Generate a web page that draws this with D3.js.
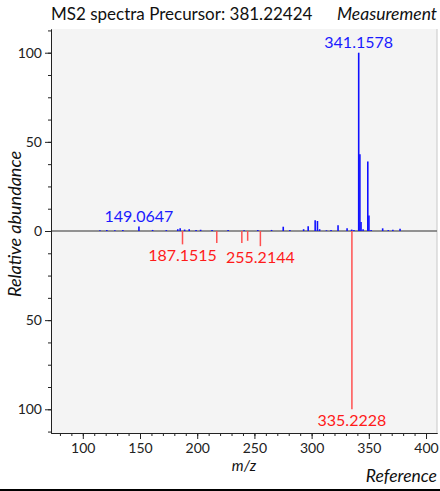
<!DOCTYPE html>
<html>
<head>
<meta charset="utf-8">
<script src="https://cdn.jsdelivr.net/npm/d3@7"></script>
<style>
  body { margin: 0; background: #fff; }
  svg { display: block; font-family: Lato, "Open Sans", sans-serif; }
  .axis path, .axis line { stroke: #222; }
  .axis text { font-size: 14px; fill: #222; font-family: Lato, sans-serif; }
</style>
</head>
<body>
<svg width="440" height="491"></svg>
<script>
// data
var title = "MS2 spectra Precursor: 381.22424";
var measMz  = [115, 121, 128, 135, 149.0647, 161, 173, 183, 185.1, 189, 193, 199, 203, 213, 227, 241, 253, 265,
               275.2, 281, 293, 297, 303.1, 305.1, 307, 313, 317, 323.1, 331, 335, 337,
               341.1578, 342.2, 343.2, 345, 349.1, 350.1, 352, 362.1, 367, 371, 377.3];
var measInt = [0.4, 0.5, 0.4, 0.6, 2.5, 0.6, 0.5, 1.0, 1.6, 0.8, 1.0, 0.6, 0.7, 0.5, 0.5, 0.4, 0.5, 0.6,
               2.4, 0.5, 1.0, 2.6, 6.0, 5.6, 1.0, 0.4, 0.5, 3.2, 1.5, 0.8, 0.6,
               100, 43, 5, 1, 39, 8.7, 0.6, 1.5, 0.5, 0.7, 1.3];
var refMz  = [187.1515, 217.1, 239.0, 244.1, 255.2144, 335.2228];
var refInt = [7.5, 6.7, 6.7, 5.5, 8.5, 100];
var measLabels = [149.0647, 341.1578];
var refLabels = [187.1515, 255.2144, 335.2228];
var xTicks = [100, 150, 200, 250, 300, 350, 400];
var yTicks = [100, 50, 0, -50, -100];

var svg = d3.select("svg");
// plot box (window.top is taken, so own names)
var plotL = 51, plotR = 437, plotT = 29, plotB = 433;

var x = d3.scaleLinear().domain([72.2, 409.6]).range([plotL, plotR]);
var y = d3.scaleLinear().domain([-113.3, 113.3]).range([plotB, plotT]);

// plot background
svg.append("rect")
    .attr("x", plotL).attr("y", plotT)
    .attr("width", plotR - plotL).attr("height", plotB - plotT)
    .attr("fill", "#f4f4f4");
svg.append("line")
    .attr("x1", plotR).attr("x2", plotR).attr("y1", plotT).attr("y2", plotB)
    .attr("stroke", "#c8c8c8");

// zero line
svg.append("line")
    .attr("x1", plotL).attr("x2", plotR).attr("y1", y(0)).attr("y2", y(0))
    .attr("stroke", "#707070").attr("stroke-width", 1.5);

// measurement peaks (up)
svg.append("g").selectAll("line")
    .data(measMz)
    .enter().append("line")
    .attr("x1", function (d) { return x(d); })
    .attr("x2", function (d) { return x(d); })
    .attr("y1", y(0))
    .attr("y2", function (d, i) { return y(measInt[i]); })
    .attr("stroke", "#1010ff").attr("stroke-width", 1.6);

// reference peaks (down)
svg.append("g").selectAll("line")
    .data(refMz)
    .enter().append("line")
    .attr("x1", function (d) { return x(d); })
    .attr("x2", function (d) { return x(d); })
    .attr("y1", y(0))
    .attr("y2", function (d, i) { return y(-refInt[i]); })
    .attr("stroke", "#ff5050").attr("stroke-width", 1.5);

// peak labels
svg.append("g").selectAll("text")
    .data(measLabels)
    .enter().append("text")
    .attr("x", function (d) { return x(d); })
    .attr("y", function (d) { return y(measInt[measMz.indexOf(d)]) - 5; })
    .attr("text-anchor", "middle")
    .attr("font-size", 16)
    .attr("fill", "#1a1aff")
    .text(function (d) { return d.toFixed(4); });

svg.append("g").selectAll("text")
    .data(refLabels)
    .enter().append("text")
    .attr("x", function (d) { return x(d); })
    .attr("y", function (d) { return y(-refInt[refMz.indexOf(d)]) + 17; })
    .attr("text-anchor", "middle")
    .attr("font-size", 16)
    .attr("fill", "#ff1a1a")
    .text(function (d) { return d.toFixed(4); });

// axes
svg.append("g").attr("class", "axis")
    .attr("transform", "translate(" + plotL + ",0)")
    .call(d3.axisLeft(y).tickValues(d3.range(-112.5, 113, 12.5)).tickSize(3).tickFormat("").tickSizeOuter(0));
svg.append("g").attr("class", "axis")
    .attr("transform", "translate(" + plotL + ",0)")
    .call(d3.axisLeft(y).tickValues(yTicks).tickSize(6).tickPadding(3)
        .tickFormat(function (d) { return Math.abs(d); }).tickSizeOuter(0));

svg.append("g").attr("class", "axis")
    .attr("transform", "translate(0," + plotB + ")")
    .call(d3.axisBottom(x).tickValues(d3.range(80, 410, 10)).tickSize(3).tickFormat("").tickSizeOuter(0));
svg.append("g").attr("class", "axis")
    .attr("transform", "translate(0," + plotB + ")")
    .call(d3.axisBottom(x).tickValues(xTicks).tickSize(6).tickPadding(4).tickSizeOuter(0));

// titles
svg.append("text")
    .attr("x", plotL).attr("y", 20)
    .attr("font-size", 17).attr("fill", "#111")
    .text(title);
svg.append("text")
    .attr("x", plotR).attr("y", 20)
    .attr("text-anchor", "end")
    .attr("font-size", 17.5).attr("font-style", "italic").attr("fill", "#111")
    .text("Measurement");
svg.append("text")
    .attr("x", (plotL + plotR) / 2).attr("y", 471)
    .attr("text-anchor", "middle")
    .attr("font-size", 15).attr("font-style", "italic").attr("fill", "#111")
    .text("m/z");
svg.append("text")
    .attr("x", plotR).attr("y", 482)
    .attr("text-anchor", "end")
    .attr("font-size", 17.5).attr("font-style", "italic").attr("fill", "#111")
    .text("Reference");
svg.append("text")
    .attr("transform", "translate(21,224) rotate(-90)")
    .attr("text-anchor", "middle")
    .attr("font-size", 18).attr("font-style", "italic").attr("fill", "#111")
    .text("Relative abundance");

// bottom border of the figure
svg.append("rect")
    .attr("x", 0).attr("y", 489).attr("width", 440).attr("height", 2)
    .attr("fill", "#000");
</script>
</body>
</html>
